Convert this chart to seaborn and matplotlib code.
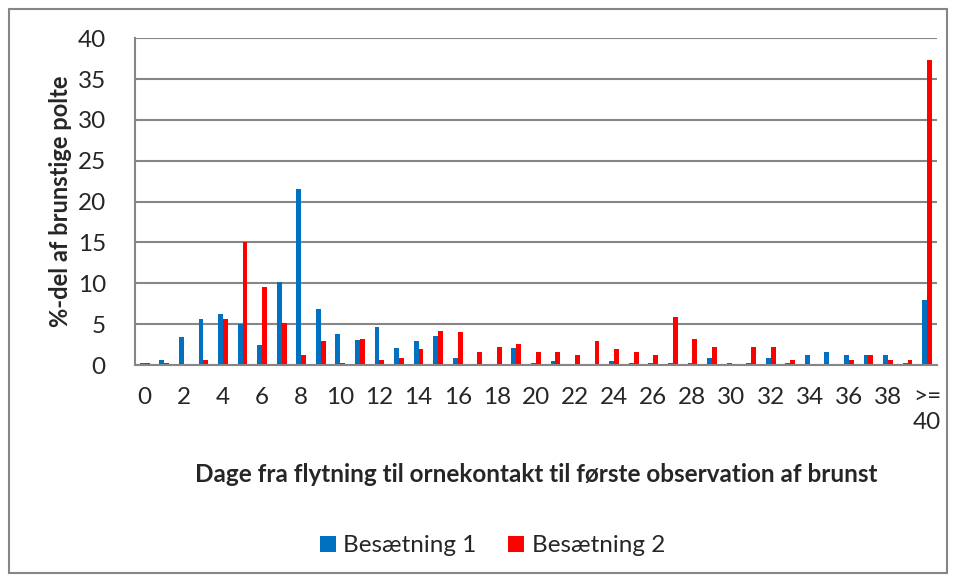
import numpy as np
import pandas as pd
import matplotlib
matplotlib.use('Agg')
import matplotlib.pyplot as plt
import seaborn as sns
from matplotlib.patches import Rectangle

# Data
days = [str(d) for d in range(40)] + ['>=\n40']
besaetning_1 = [0.3, 0.6, 3.4, 5.6, 6.2, 5.0, 2.5, 10.2, 21.5, 6.9,
                3.8, 3.1, 4.7, 2.1, 2.9, 3.5, 0.9, 0.0, 0.0, 2.1,
                0.3, 0.5, 0.0, 0.0, 0.5, 0.3, 0.3, 0.3, 0.3, 0.9,
                0.3, 0.3, 0.9, 0.3, 1.2, 1.6, 1.2, 1.2, 1.2, 0.3,
                7.9]
besaetning_2 = [0.3, 0.3, 0.0, 0.6, 5.6, 15.0, 9.6, 5.2, 1.2, 2.9,
                0.3, 3.2, 0.6, 0.9, 2.0, 4.2, 4.0, 1.6, 2.2, 2.6,
                1.6, 1.6, 1.2, 2.9, 2.0, 1.6, 1.2, 5.9, 3.2, 2.2,
                0.0, 2.2, 2.2, 0.6, 0.0, 0.0, 0.6, 1.2, 0.6, 0.6,
                37.3]
series_names = ['Besætning 1', 'Besætning 2']
colors = ['#0070C0', '#FF0000']

df = pd.DataFrame({
    'Dag': days * 2,
    'Procent': besaetning_1 + besaetning_2,
    'Besætning': [series_names[0]] * len(days) + [series_names[1]] * len(days),
})

sns.set_style('white')
plt.rcParams['font.family'] = ['Lato', 'DejaVu Sans']

fig = plt.figure(figsize=(9.56, 5.78), dpi=100)
ax = fig.add_axes([0.1412, 0.3685, 0.8388, 0.5655])

sns.barplot(data=df, x='Dag', y='Procent', hue='Besætning', order=days,
            palette=colors, width=0.5, saturation=1, ax=ax, legend=True,
            linewidth=0)

grid_c = '#868686'
ax.set_ylim(0, 40)
ax.set_xlim(-0.5, len(days) - 0.5)
ax.set_yticks(range(0, 41, 5))
ax.yaxis.grid(True, color=grid_c, linewidth=1.5)
ax.set_axisbelow(True)
for s in ['top', 'right']:
    ax.spines[s].set_visible(False)
for s in ['left', 'bottom']:
    ax.spines[s].set_color(grid_c)
    ax.spines[s].set_linewidth(1.5)

ax.set_xticks(range(len(days)))
ax.set_xticklabels([d if i % 2 == 0 else '' for i, d in enumerate(days)])
ax.tick_params(axis='x', length=0, labelsize=17.5, pad=16)
ax.tick_params(axis='y', length=9, width=1.5, color=grid_c, labelsize=17.5, pad=12)

ax.set_xlabel('Dage fra flytning til ornekontakt til første observation af brunst',
              fontsize=17.5, fontweight='bold', labelpad=22)
ax.set_ylabel('%-del af brunstige polte', fontsize=17, fontweight='bold', labelpad=4)

ax.legend(loc='center', bbox_to_anchor=(0.446, -0.553), ncol=2, frameon=False,
          fontsize=17.5, handlelength=0.65, handleheight=0.65, columnspacing=1.3,
          handletextpad=0.3)

fig.patches.append(Rectangle((0.0095, 0.0095), 0.981, 0.975, transform=fig.transFigure,
                             fill=False, edgecolor=grid_c, linewidth=1.5))

fig.savefig('out.png', dpi=100)
